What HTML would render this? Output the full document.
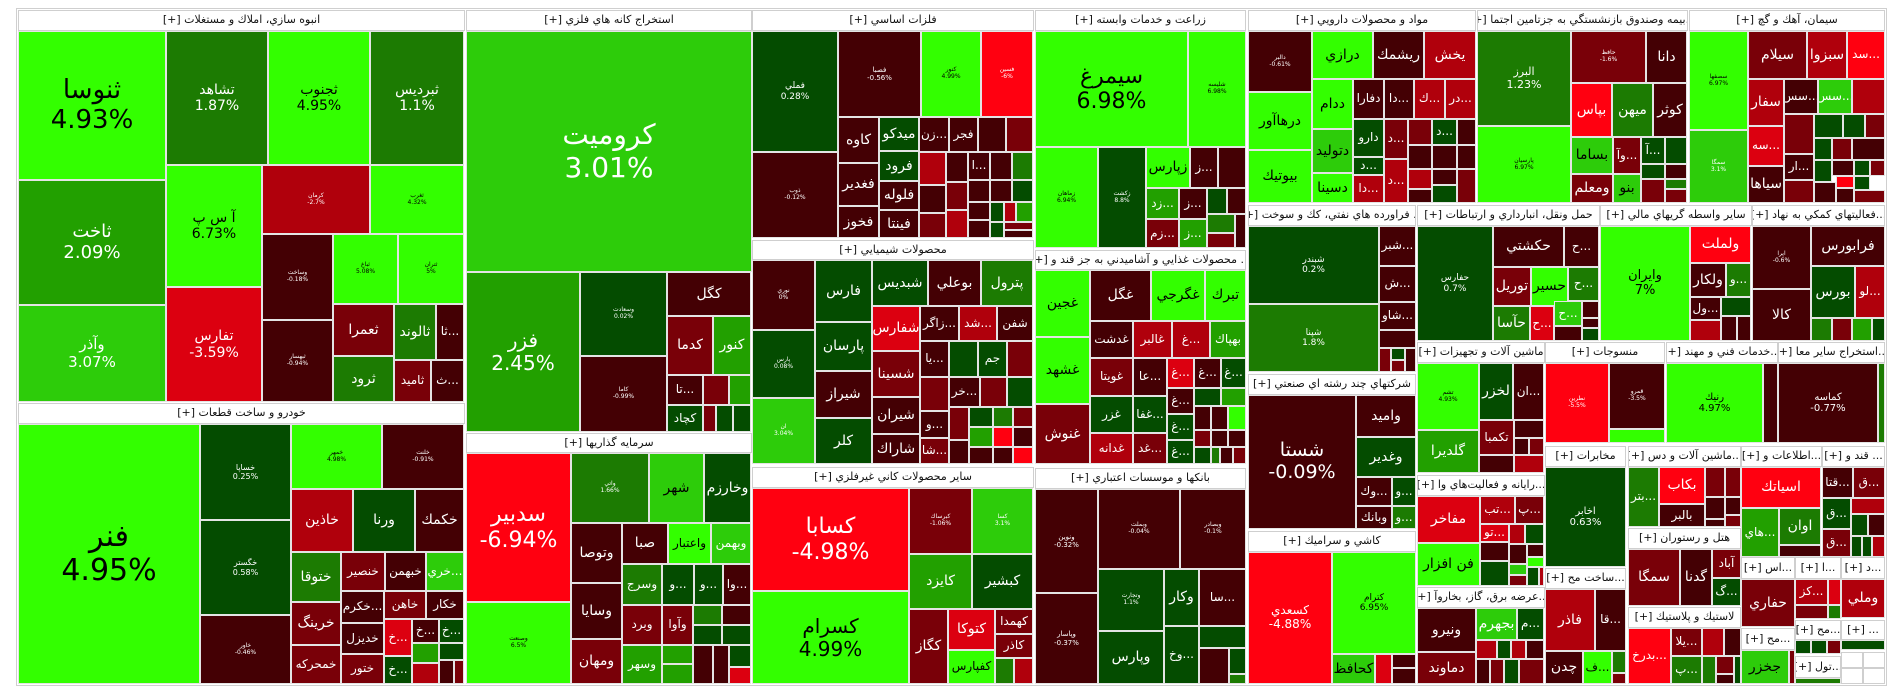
<!DOCTYPE html>
<html><head><meta charset="utf-8">
<style>
html,body{margin:0;padding:0;background:#fff;width:1904px;height:698px;overflow:hidden}
#w{position:relative;width:1904px;height:698px;font-family:"DejaVu Sans","Liberation Sans",sans-serif}
#w div{position:absolute;box-sizing:border-box;display:flex;align-items:center;justify-content:center;text-align:center;overflow:hidden;white-space:nowrap;line-height:1.15;direction:ltr}
.t{border:1px solid #e4e4e4;color:#fff;font-size:12px}
#w .h{background:#fff;border:1px solid #cfcfcf;color:#111;font-size:11px;direction:rtl}
.a{background:#33ff00;color:#000!important}
.b{background:#2dcc0a}
.c{background:#22a000}
.d{background:#1c7b02}
.e{background:#044c00}
.r1{background:#440004}
.r2{background:#790008}
.r3{background:#b0000c}
.r4{background:#dc0010}
.r5{background:#ff0010}
.s{font-size:6px!important}
.m{font-size:14px!important}
.k{font-size:11px!important}
#fr{border:1px solid #cfcfcf;left:16px;top:8px;width:1871px;height:678px}
</style></head><body><div id="w">
<div id="fr"></div>
<!-- انبوه -->
<div class="h" style="left:18px;top:10px;width:447px;height:21px">انبوه سازي، املاك و مستغلات [+]</div>
<div class="t a" style="left:18px;top:31px;width:148px;height:149px;font-size:26px">ثنوسا<br>4.93%</div>
<div class="t c" style="left:18px;top:180px;width:148px;height:125px;font-size:18px">ثاخت<br>2.09%</div>
<div class="t b" style="left:18px;top:305px;width:148px;height:97px;font-size:15px">وآذر<br>3.07%</div>
<div class="t d m" style="left:166px;top:31px;width:102px;height:134px">تشاهد<br>1.87%</div>
<div class="t a m" style="left:268px;top:31px;width:102px;height:134px">ثجنوب<br>4.95%</div>
<div class="t d m" style="left:370px;top:31px;width:94px;height:134px">ثبرديس<br>1.1%</div>
<div class="t a m" style="left:166px;top:165px;width:96px;height:122px">آ س پ<br>6.73%</div>
<div class="t r3 s" style="left:262px;top:165px;width:108px;height:69px">كرمان<br>-2.7%</div>
<div class="t a s" style="left:370px;top:165px;width:94px;height:69px">ثغرب<br>4.32%</div>
<div class="t r1 s" style="left:262px;top:234px;width:71px;height:86px">وساخت<br>-0.18%</div>
<div class="t a s" style="left:333px;top:234px;width:65px;height:70px">ثباغ<br>5.08%</div>
<div class="t a s" style="left:398px;top:234px;width:66px;height:70px">ثتران<br>5%</div>
<div class="t r4 m" style="left:166px;top:287px;width:96px;height:115px">تفارس<br>-3.59%</div>
<div class="t r1 s" style="left:262px;top:320px;width:71px;height:82px">ثبهسار<br>-0.94%</div>
<div class="t r2 m" style="left:333px;top:304px;width:61px;height:52px">ثعمرا</div>
<div class="t d m" style="left:394px;top:304px;width:42px;height:56px">ثالوند</div>
<div class="t r1" style="left:436px;top:304px;width:28px;height:56px">ثا...</div>
<div class="t d m" style="left:333px;top:356px;width:61px;height:46px">ثرود</div>
<div class="t r2" style="left:394px;top:360px;width:37px;height:42px">ثاميد</div>
<div class="t r1" style="left:431px;top:360px;width:33px;height:42px">ث...</div>
<!-- خودرو -->
<div class="h" style="left:18px;top:403px;width:447px;height:21px">خودرو و ساخت قطعات [+]</div>
<div class="t a" style="left:18px;top:424px;width:182px;height:260px;font-size:30px">فنر<br>4.95%</div>
<div class="t e" style="left:200px;top:424px;width:91px;height:96px;font-size:8px">خساپا<br>0.25%</div>
<div class="t e" style="left:200px;top:520px;width:91px;height:95px;font-size:8px">خگستر<br>0.58%</div>
<div class="t r1 s" style="left:200px;top:615px;width:91px;height:69px">خاور<br>-0.46%</div>
<div class="t a s" style="left:291px;top:424px;width:91px;height:65px">خمهر<br>4.98%</div>
<div class="t r1 s" style="left:382px;top:424px;width:82px;height:65px">خلنت<br>-0.91%</div>
<div class="t r3 m" style="left:291px;top:489px;width:62px;height:63px">خاذين</div>
<div class="t e m" style="left:353px;top:489px;width:62px;height:63px">ورنا</div>
<div class="t r1 m" style="left:415px;top:489px;width:49px;height:63px">خكمك</div>
<div class="t d m" style="left:291px;top:552px;width:50px;height:50px">ختوقا</div>
<div class="t r2" style="left:341px;top:552px;width:44px;height:39px">خنصير</div>
<div class="t r1" style="left:385px;top:552px;width:41px;height:39px">خبهمن</div>
<div class="t b" style="left:426px;top:552px;width:38px;height:39px">خري...</div>
<div class="t r2 m" style="left:291px;top:602px;width:50px;height:43px">خرينگ</div>
<div class="t r2" style="left:291px;top:645px;width:50px;height:39px">خمحركه</div>
<div class="t r1" style="left:341px;top:591px;width:43px;height:32px">خكرم...</div>
<div class="t r2" style="left:384px;top:591px;width:42px;height:28px">خاهن</div>
<div class="t r1" style="left:426px;top:591px;width:38px;height:28px">خكار</div>
<div class="t r1" style="left:341px;top:623px;width:43px;height:31px">خديزل</div>
<div class="t r2" style="left:341px;top:654px;width:43px;height:30px">ختور</div>
<div class="t r4" style="left:384px;top:619px;width:28px;height:37px">خ...</div>
<div class="t r1" style="left:412px;top:619px;width:27px;height:24px">خ...</div>
<div class="t e" style="left:439px;top:619px;width:25px;height:24px">خ...</div>
<div class="t c" style="left:412px;top:643px;width:27px;height:20px"></div>
<div class="t e" style="left:439px;top:643px;width:25px;height:17px"></div>
<div class="t e" style="left:384px;top:656px;width:28px;height:28px">خ...</div>
<div class="t r3" style="left:412px;top:663px;width:27px;height:21px"></div>
<div class="t r1" style="left:439px;top:660px;width:15px;height:24px"></div>
<div class="t r2" style="left:454px;top:660px;width:10px;height:24px"></div>
<!-- استخراج فلزي -->
<div class="h" style="left:466px;top:10px;width:286px;height:21px">استخراج كانه هاي فلزي [+]</div>
<div class="t b" style="left:466px;top:31px;width:286px;height:241px;font-size:28px">كروميت<br>3.01%</div>
<div class="t c" style="left:466px;top:272px;width:114px;height:160px;font-size:20px">فزر<br>2.45%</div>
<div class="t e s" style="left:580px;top:272px;width:87px;height:84px">وسعادت<br>0.02%</div>
<div class="t r1 s" style="left:580px;top:356px;width:87px;height:76px">كاما<br>-0.99%</div>
<div class="t r1 m" style="left:667px;top:272px;width:84px;height:44px">كگل</div>
<div class="t r2 m" style="left:667px;top:316px;width:46px;height:59px">كدما</div>
<div class="t c m" style="left:713px;top:316px;width:38px;height:59px">كنور</div>
<div class="t r1" style="left:667px;top:375px;width:36px;height:30px">تا...</div>
<div class="t r2" style="left:703px;top:375px;width:26px;height:30px"></div>
<div class="t c" style="left:729px;top:375px;width:22px;height:30px"></div>
<div class="t e" style="left:667px;top:405px;width:36px;height:27px">كچاد</div>
<div class="t r2" style="left:703px;top:405px;width:13px;height:27px"></div>
<div class="t e" style="left:716px;top:405px;width:17px;height:27px"></div>
<div class="t e" style="left:733px;top:405px;width:18px;height:27px"></div>
<!-- سرمايه -->
<div class="h" style="left:466px;top:433px;width:286px;height:20px">سرمايه گذاريها [+]</div>
<div class="t r5" style="left:466px;top:453px;width:105px;height:149px;font-size:22px">سدبير<br>-6.94%</div>
<div class="t a s" style="left:466px;top:602px;width:105px;height:82px">وصنعت<br>6.5%</div>
<div class="t d s" style="left:571px;top:453px;width:78px;height:70px">واتي<br>1.66%</div>
<div class="t b m" style="left:649px;top:453px;width:55px;height:70px;color:#000">شهر</div>
<div class="t e m" style="left:704px;top:453px;width:47px;height:70px">وخارزم</div>
<div class="t r1 m" style="left:571px;top:523px;width:51px;height:60px">وتوصا</div>
<div class="t r1 m" style="left:571px;top:583px;width:51px;height:56px">وسايا</div>
<div class="t r2 m" style="left:571px;top:639px;width:51px;height:45px">ومهان</div>
<div class="t r1 m" style="left:622px;top:523px;width:46px;height:41px">صبا</div>
<div class="t a" style="left:668px;top:523px;width:43px;height:41px">واعتبار</div>
<div class="t b" style="left:711px;top:523px;width:40px;height:41px">وبهمن</div>
<div class="t d" style="left:622px;top:564px;width:40px;height:41px">وسرج</div>
<div class="t e" style="left:662px;top:564px;width:32px;height:41px">و...</div>
<div class="t e" style="left:694px;top:564px;width:29px;height:41px">و...</div>
<div class="t r1" style="left:723px;top:564px;width:28px;height:41px">وا...</div>
<div class="t r2" style="left:622px;top:605px;width:40px;height:40px">وبرد</div>
<div class="t r2" style="left:662px;top:605px;width:31px;height:40px">وآوا</div>
<div class="t d" style="left:693px;top:605px;width:29px;height:20px"></div>
<div class="t r1" style="left:722px;top:605px;width:29px;height:20px"></div>
<div class="t e" style="left:693px;top:625px;width:29px;height:20px"></div>
<div class="t e" style="left:722px;top:625px;width:29px;height:20px"></div>
<div class="t c" style="left:622px;top:645px;width:40px;height:39px">وسهر</div>
<div class="t c" style="left:662px;top:645px;width:31px;height:19px"></div>
<div class="t c" style="left:662px;top:664px;width:31px;height:20px"></div>
<div class="t r1" style="left:693px;top:645px;width:20px;height:39px"></div>
<div class="t r1" style="left:713px;top:645px;width:16px;height:39px"></div>
<div class="t e" style="left:729px;top:645px;width:22px;height:22px"></div>
<div class="t r4" style="left:729px;top:667px;width:22px;height:17px"></div>
<!-- فلزات -->
<div class="h" style="left:752px;top:10px;width:282px;height:21px">فلزات اساسي [+]</div>
<div class="t e" style="left:752px;top:31px;width:86px;height:121px;font-size:9px">فملي<br>0.28%</div>
<div class="t r1 s" style="left:752px;top:152px;width:86px;height:86px">ذوب<br>-0.12%</div>
<div class="t r1" style="left:838px;top:31px;width:83px;height:86px;font-size:7px">فصبا<br>-0.56%</div>
<div class="t a s" style="left:921px;top:31px;width:60px;height:86px">كنور<br>4.99%</div>
<div class="t r5 s" style="left:981px;top:31px;width:52px;height:86px">فسين<br>-6%</div>
<div class="t r1 m" style="left:838px;top:117px;width:41px;height:46px">كاوه</div>
<div class="t r1 m" style="left:838px;top:163px;width:41px;height:43px">فغدير</div>
<div class="t r1 m" style="left:838px;top:206px;width:41px;height:32px">فخوز</div>
<div class="t e m" style="left:879px;top:117px;width:40px;height:34px">ميدكو</div>
<div class="t e m" style="left:879px;top:151px;width:40px;height:30px">فرود</div>
<div class="t r1 m" style="left:879px;top:181px;width:40px;height:29px">فلوله</div>
<div class="t r1 m" style="left:879px;top:210px;width:40px;height:28px">فينتا</div>
<div class="t r1" style="left:919px;top:117px;width:30px;height:35px">زن...</div>
<div class="t r1" style="left:949px;top:117px;width:29px;height:35px">فجر</div>
<div class="t r1" style="left:978px;top:117px;width:28px;height:35px"></div>
<div class="t r2" style="left:1006px;top:117px;width:27px;height:35px"></div>
<div class="t r3" style="left:919px;top:152px;width:27px;height:33px"></div>
<div class="t r1" style="left:946px;top:152px;width:22px;height:30px"></div>
<div class="t r1" style="left:968px;top:152px;width:22px;height:28px">ا...</div>
<div class="t r1" style="left:990px;top:152px;width:22px;height:28px"></div>
<div class="t d" style="left:1012px;top:152px;width:21px;height:28px"></div>
<div class="t r1" style="left:919px;top:185px;width:27px;height:28px"></div>
<div class="t r2" style="left:946px;top:182px;width:22px;height:28px"></div>
<div class="t r1" style="left:968px;top:180px;width:22px;height:22px"></div>
<div class="t r1" style="left:990px;top:180px;width:22px;height:22px"></div>
<div class="t e" style="left:1012px;top:180px;width:21px;height:22px"></div>
<div class="t r2" style="left:919px;top:213px;width:27px;height:25px"></div>
<div class="t r3" style="left:946px;top:210px;width:22px;height:28px"></div>
<div class="t r1" style="left:968px;top:202px;width:22px;height:18px"></div>
<div class="t e" style="left:990px;top:202px;width:14px;height:20px"></div>
<div class="t r3" style="left:1004px;top:202px;width:12px;height:20px"></div>
<div class="t c" style="left:1016px;top:202px;width:17px;height:20px"></div>
<div class="t r1" style="left:968px;top:220px;width:22px;height:18px"></div>
<div class="t e" style="left:990px;top:222px;width:14px;height:16px"></div>
<div class="t r2" style="left:1004px;top:222px;width:29px;height:8px"></div>
<div class="t r1" style="left:1004px;top:230px;width:29px;height:8px"></div>
<!-- شيميايي -->
<div class="h" style="left:752px;top:240px;width:282px;height:20px">محصولات شيميايي [+]</div>
<div class="t r1 s" style="left:752px;top:260px;width:63px;height:70px">نوري<br>0%</div>
<div class="t e s" style="left:752px;top:330px;width:63px;height:68px">پارس<br>0.08%</div>
<div class="t b s" style="left:752px;top:398px;width:63px;height:66px">ان<br>3.04%</div>
<div class="t e m" style="left:815px;top:260px;width:57px;height:62px">فارس</div>
<div class="t e m" style="left:815px;top:322px;width:57px;height:49px">پارسان</div>
<div class="t r1 m" style="left:815px;top:371px;width:57px;height:47px">شيراز</div>
<div class="t e m" style="left:815px;top:418px;width:57px;height:46px">كلر</div>
<div class="t e m" style="left:872px;top:260px;width:56px;height:46px">شبديس</div>
<div class="t r1 m" style="left:928px;top:260px;width:53px;height:46px">بوعلي</div>
<div class="t d m" style="left:981px;top:260px;width:52px;height:46px">پترول</div>
<div class="t r4 m" style="left:872px;top:306px;width:48px;height:45px">شفارس</div>
<div class="t r2 m" style="left:872px;top:351px;width:48px;height:46px">شسينا</div>
<div class="t r1 m" style="left:872px;top:397px;width:48px;height:37px">شيران</div>
<div class="t r1 m" style="left:872px;top:434px;width:48px;height:30px">شاراك</div>
<div class="t r1" style="left:920px;top:306px;width:39px;height:35px">زاگر...</div>
<div class="t r3" style="left:959px;top:306px;width:38px;height:35px">شد...</div>
<div class="t r1" style="left:997px;top:306px;width:36px;height:35px">شفن</div>
<div class="t r1" style="left:920px;top:341px;width:29px;height:36px">يا...</div>
<div class="t e" style="left:949px;top:341px;width:29px;height:36px"></div>
<div class="t e" style="left:978px;top:341px;width:29px;height:36px">جم</div>
<div class="t r2" style="left:1007px;top:341px;width:26px;height:36px"></div>
<div class="t r2" style="left:920px;top:377px;width:29px;height:34px"></div>
<div class="t r1" style="left:949px;top:377px;width:31px;height:30px">خر...</div>
<div class="t r2" style="left:980px;top:377px;width:27px;height:30px"></div>
<div class="t e" style="left:1007px;top:377px;width:26px;height:30px"></div>
<div class="t r1" style="left:920px;top:411px;width:29px;height:27px">و...</div>
<div class="t r2" style="left:920px;top:438px;width:29px;height:26px">شا...</div>
<div class="t r2" style="left:949px;top:407px;width:20px;height:33px"></div>
<div class="t r1" style="left:949px;top:440px;width:20px;height:24px"></div>
<div class="t e" style="left:969px;top:407px;width:24px;height:20px"></div>
<div class="t c" style="left:969px;top:427px;width:24px;height:20px"></div>
<div class="t r1" style="left:969px;top:447px;width:24px;height:17px"></div>
<div class="t d" style="left:993px;top:407px;width:20px;height:20px"></div>
<div class="t r2" style="left:1013px;top:407px;width:20px;height:20px"></div>
<div class="t r5" style="left:993px;top:427px;width:20px;height:20px"></div>
<div class="t r1" style="left:1013px;top:427px;width:20px;height:20px"></div>
<div class="t r1" style="left:993px;top:447px;width:20px;height:17px"></div>
<div class="t r5" style="left:1013px;top:447px;width:20px;height:17px"></div>
<!-- كاني -->
<div class="h" style="left:752px;top:467px;width:282px;height:21px">ساير محصولات كاني غيرفلزي [+]</div>
<div class="t r5" style="left:752px;top:488px;width:157px;height:103px;font-size:22px">كسابا<br>-4.98%</div>
<div class="t a" style="left:752px;top:591px;width:157px;height:93px;font-size:20px">كسرام<br>4.99%</div>
<div class="t r2 s" style="left:909px;top:488px;width:63px;height:66px">كبرساك<br>-1.06%</div>
<div class="t b s" style="left:972px;top:488px;width:61px;height:66px">كسا<br>3.1%</div>
<div class="t c m" style="left:909px;top:554px;width:63px;height:55px">كايزد</div>
<div class="t e m" style="left:972px;top:554px;width:61px;height:55px">كبشير</div>
<div class="t r2 m" style="left:909px;top:609px;width:39px;height:75px">كگاز</div>
<div class="t r4 m" style="left:948px;top:609px;width:47px;height:41px">كتوكا</div>
<div class="t a" style="left:948px;top:650px;width:47px;height:34px">كفپارس</div>
<div class="t r2" style="left:995px;top:609px;width:38px;height:25px">كهمدا</div>
<div class="t r2" style="left:995px;top:634px;width:38px;height:24px">كاذر</div>
<div class="t d" style="left:995px;top:658px;width:19px;height:26px"></div>
<div class="t r3" style="left:1014px;top:658px;width:19px;height:26px"></div>
<!-- زراعت -->
<div class="h" style="left:1035px;top:10px;width:211px;height:21px">زراعت و خدمات وابسته [+]</div>
<div class="t a" style="left:1035px;top:31px;width:153px;height:116px;font-size:22px">سيمرغ<br>6.98%</div>
<div class="t a s" style="left:1188px;top:31px;width:58px;height:116px">شليسه<br>6.98%</div>
<div class="t a s" style="left:1035px;top:147px;width:63px;height:101px">زماهان<br>6.94%</div>
<div class="t e s" style="left:1098px;top:147px;width:48px;height:101px">زكشت<br>8.8%</div>
<div class="t a m" style="left:1146px;top:147px;width:44px;height:41px">زپارس</div>
<div class="t r1" style="left:1190px;top:147px;width:28px;height:41px">ز...</div>
<div class="t r1" style="left:1218px;top:147px;width:28px;height:41px"></div>
<div class="t c" style="left:1146px;top:188px;width:33px;height:31px">زد...</div>
<div class="t r1" style="left:1179px;top:188px;width:28px;height:31px">ز...</div>
<div class="t e" style="left:1207px;top:188px;width:20px;height:26px"></div>
<div class="t r1" style="left:1227px;top:188px;width:19px;height:26px"></div>
<div class="t r2" style="left:1146px;top:219px;width:33px;height:29px">زم...</div>
<div class="t c" style="left:1179px;top:219px;width:28px;height:29px">ز...</div>
<div class="t d" style="left:1207px;top:214px;width:28px;height:19px"></div>
<div class="t r2" style="left:1207px;top:233px;width:28px;height:15px"></div>
<div class="t r1" style="left:1235px;top:214px;width:11px;height:34px"></div>
<!-- غذايي -->
<div class="h" style="left:1035px;top:250px;width:211px;height:20px">... محصولات غذايي و آشاميدني به جز قند و [+]</div>
<div class="t a m" style="left:1035px;top:270px;width:55px;height:67px">غجين</div>
<div class="t a m" style="left:1035px;top:337px;width:55px;height:67px">غشهد</div>
<div class="t r2 m" style="left:1035px;top:404px;width:55px;height:60px">غنوش</div>
<div class="t r1 m" style="left:1090px;top:270px;width:61px;height:51px">غگل</div>
<div class="t a m" style="left:1151px;top:270px;width:54px;height:51px">غگرجي</div>
<div class="t a m" style="left:1205px;top:270px;width:41px;height:51px">تبرك</div>
<div class="t r1" style="left:1090px;top:321px;width:43px;height:37px">غدشت</div>
<div class="t r3" style="left:1133px;top:321px;width:39px;height:37px">غالبر</div>
<div class="t r3" style="left:1172px;top:321px;width:38px;height:37px">غ...</div>
<div class="t c" style="left:1210px;top:321px;width:36px;height:37px">بهپاك</div>
<div class="t r2" style="left:1090px;top:358px;width:43px;height:38px">غويتا</div>
<div class="t r1" style="left:1133px;top:358px;width:34px;height:38px">عا...</div>
<div class="t r4" style="left:1167px;top:358px;width:27px;height:30px">غ...</div>
<div class="t r1" style="left:1194px;top:358px;width:27px;height:30px">غ...</div>
<div class="t e" style="left:1221px;top:358px;width:25px;height:30px">غ...</div>
<div class="t e" style="left:1090px;top:396px;width:43px;height:37px">غزر</div>
<div class="t e" style="left:1133px;top:396px;width:34px;height:37px">غفا...</div>
<div class="t r1" style="left:1167px;top:388px;width:27px;height:26px">غ...</div>
<div class="t e" style="left:1167px;top:414px;width:27px;height:26px">غ...</div>
<div class="t e" style="left:1167px;top:440px;width:27px;height:24px">غ...</div>
<div class="t e" style="left:1194px;top:388px;width:27px;height:18px"></div>
<div class="t c" style="left:1221px;top:388px;width:25px;height:18px"></div>
<div class="t r1" style="left:1194px;top:406px;width:17px;height:24px"></div>
<div class="t r1" style="left:1211px;top:406px;width:17px;height:24px"></div>
<div class="t a" style="left:1228px;top:406px;width:18px;height:24px"></div>
<div class="t r2" style="left:1194px;top:430px;width:17px;height:17px"></div>
<div class="t r1" style="left:1211px;top:430px;width:17px;height:17px"></div>
<div class="t r1" style="left:1228px;top:430px;width:18px;height:17px"></div>
<div class="t e" style="left:1194px;top:447px;width:17px;height:17px"></div>
<div class="t d" style="left:1211px;top:447px;width:9px;height:17px"></div>
<div class="t r1" style="left:1220px;top:447px;width:13px;height:17px"></div>
<div class="t r2" style="left:1233px;top:447px;width:13px;height:17px"></div>
<div class="t r3" style="left:1090px;top:433px;width:43px;height:31px">غدانه</div>
<div class="t r2" style="left:1133px;top:433px;width:34px;height:31px">غد...</div>
<!-- بانكها -->
<div class="h" style="left:1035px;top:468px;width:211px;height:21px">بانكها و موسسات اعتباري [+]</div>
<div class="t r1" style="left:1035px;top:489px;width:63px;height:104px;font-size:7px">ونوين<br>-0.32%</div>
<div class="t r1" style="left:1035px;top:593px;width:63px;height:91px;font-size:7px">وپاسار<br>-0.37%</div>
<div class="t r1 s" style="left:1098px;top:489px;width:82px;height:80px">وبملت<br>-0.04%</div>
<div class="t r1 s" style="left:1180px;top:489px;width:66px;height:80px">وبصادر<br>-0.1%</div>
<div class="t e s" style="left:1098px;top:569px;width:66px;height:62px">وتجارت<br>1.1%</div>
<div class="t e m" style="left:1164px;top:569px;width:35px;height:57px">وكار</div>
<div class="t r1" style="left:1199px;top:569px;width:47px;height:57px">سا...</div>
<div class="t e m" style="left:1098px;top:631px;width:66px;height:53px">وپارس</div>
<div class="t e" style="left:1164px;top:626px;width:35px;height:58px">وخ...</div>
<div class="t e" style="left:1199px;top:626px;width:47px;height:22px"></div>
<div class="t r1" style="left:1199px;top:648px;width:30px;height:36px"></div>
<div class="t e" style="left:1229px;top:648px;width:17px;height:26px"></div>
<div class="t d" style="left:1229px;top:674px;width:17px;height:10px"></div>
<!-- دارويي -->
<div class="h" style="left:1248px;top:10px;width:228px;height:21px">مواد و محصولات دارويي [+]</div>
<div class="t r1 s" style="left:1248px;top:31px;width:64px;height:61px">دالبر<br>-0.61%</div>
<div class="t a m" style="left:1248px;top:92px;width:64px;height:58px">درهاآور</div>
<div class="t a m" style="left:1248px;top:150px;width:64px;height:53px">بيوتيك</div>
<div class="t a m" style="left:1312px;top:31px;width:61px;height:48px">درازي</div>
<div class="t r1 m" style="left:1373px;top:31px;width:51px;height:48px">ريشمك</div>
<div class="t r3 m" style="left:1424px;top:31px;width:52px;height:48px">يخش</div>
<div class="t a m" style="left:1312px;top:79px;width:41px;height:50px">ددام</div>
<div class="t b m" style="left:1312px;top:129px;width:41px;height:44px;color:#000">دتوليد</div>
<div class="t a m" style="left:1312px;top:173px;width:41px;height:30px">دسينا</div>
<div class="t r1" style="left:1353px;top:79px;width:31px;height:40px">دفارا</div>
<div class="t r1" style="left:1384px;top:79px;width:30px;height:40px">دا...</div>
<div class="t r3" style="left:1414px;top:79px;width:31px;height:40px">ك...</div>
<div class="t r3" style="left:1445px;top:79px;width:31px;height:40px">در...</div>
<div class="t e" style="left:1353px;top:119px;width:31px;height:38px">دارو</div>
<div class="t r2" style="left:1384px;top:119px;width:24px;height:40px">د...</div>
<div class="t r2" style="left:1408px;top:119px;width:24px;height:26px"></div>
<div class="t e" style="left:1432px;top:119px;width:25px;height:26px">د...</div>
<div class="t r1" style="left:1457px;top:119px;width:19px;height:26px"></div>
<div class="t e" style="left:1353px;top:157px;width:31px;height:18px">د...</div>
<div class="t r3" style="left:1353px;top:175px;width:31px;height:28px">دا...</div>
<div class="t r3" style="left:1384px;top:159px;width:24px;height:44px">د...</div>
<div class="t r1" style="left:1408px;top:145px;width:24px;height:24px"></div>
<div class="t r1" style="left:1432px;top:145px;width:25px;height:24px"></div>
<div class="t r1" style="left:1457px;top:145px;width:19px;height:24px"></div>
<div class="t r3" style="left:1408px;top:169px;width:24px;height:20px"></div>
<div class="t r1" style="left:1408px;top:189px;width:24px;height:14px"></div>
<div class="t r1" style="left:1432px;top:169px;width:25px;height:16px"></div>
<div class="t e" style="left:1432px;top:185px;width:25px;height:18px"></div>
<div class="t r2" style="left:1457px;top:169px;width:19px;height:34px"></div>
<!-- بيمه -->
<div class="h" style="left:1477px;top:10px;width:211px;height:21px">...بيمه وصندوق بازنشستگي به جزتامين اجتما [+]</div>
<div class="t d k" style="left:1477px;top:31px;width:94px;height:95px">البرز<br>1.23%</div>
<div class="t a s" style="left:1477px;top:126px;width:94px;height:77px">پارسيان<br>6.97%</div>
<div class="t r2 s" style="left:1571px;top:31px;width:75px;height:52px">حافظ<br>-1.6%</div>
<div class="t r1 m" style="left:1646px;top:31px;width:41px;height:52px">دانا</div>
<div class="t r5 m" style="left:1571px;top:83px;width:41px;height:54px">بپاس</div>
<div class="t d m" style="left:1612px;top:83px;width:41px;height:54px">ميهن</div>
<div class="t r1 m" style="left:1653px;top:83px;width:34px;height:54px">كوثر</div>
<div class="t b m" style="left:1571px;top:137px;width:42px;height:37px;color:#000">بساما</div>
<div class="t r2" style="left:1613px;top:137px;width:28px;height:37px">وآ...</div>
<div class="t e" style="left:1641px;top:137px;width:24px;height:27px">آ...</div>
<div class="t e" style="left:1665px;top:137px;width:22px;height:27px"></div>
<div class="t r2 m" style="left:1571px;top:174px;width:42px;height:29px">ومعلم</div>
<div class="t b m" style="left:1613px;top:174px;width:28px;height:29px;color:#000">بنو</div>
<div class="t e" style="left:1641px;top:164px;width:24px;height:15px"></div>
<div class="t r1" style="left:1665px;top:164px;width:22px;height:15px"></div>
<div class="t r2" style="left:1641px;top:179px;width:24px;height:24px"></div>
<div class="t d" style="left:1665px;top:179px;width:22px;height:10px"></div>
<div class="t r2" style="left:1665px;top:189px;width:22px;height:14px"></div>
<!-- سيمان -->
<div class="h" style="left:1689px;top:10px;width:196px;height:21px">سيمان، آهك و گچ [+]</div>
<div class="t a s" style="left:1689px;top:31px;width:59px;height:99px">سصفها<br>6.97%</div>
<div class="t b s" style="left:1689px;top:130px;width:59px;height:73px">سمگا<br>3.1%</div>
<div class="t r2 m" style="left:1748px;top:31px;width:59px;height:48px">سيلام</div>
<div class="t r3 m" style="left:1807px;top:31px;width:40px;height:48px">سبزوا</div>
<div class="t r5" style="left:1847px;top:31px;width:38px;height:48px">سد...</div>
<div class="t r3 m" style="left:1748px;top:79px;width:36px;height:47px">سفار</div>
<div class="t r1" style="left:1784px;top:79px;width:34px;height:35px">سس...</div>
<div class="t b" style="left:1818px;top:79px;width:34px;height:35px">سس...</div>
<div class="t r3" style="left:1852px;top:79px;width:33px;height:35px"></div>
<div class="t r4" style="left:1748px;top:126px;width:36px;height:40px">سه...</div>
<div class="t r1 m" style="left:1748px;top:166px;width:36px;height:37px">سياها</div>
<div class="t r2" style="left:1784px;top:114px;width:30px;height:40px"></div>
<div class="t e" style="left:1814px;top:114px;width:29px;height:24px"></div>
<div class="t e" style="left:1843px;top:114px;width:22px;height:24px"></div>
<div class="t r2" style="left:1865px;top:114px;width:20px;height:24px"></div>
<div class="t r1" style="left:1784px;top:154px;width:30px;height:26px">ار...</div>
<div class="t r2" style="left:1784px;top:180px;width:30px;height:23px"></div>
<div class="t e" style="left:1814px;top:138px;width:18px;height:22px"></div>
<div class="t r2" style="left:1832px;top:138px;width:20px;height:22px"></div>
<div class="t r1" style="left:1852px;top:138px;width:33px;height:22px"></div>
<div class="t e" style="left:1814px;top:160px;width:18px;height:22px"></div>
<div class="t r1" style="left:1832px;top:160px;width:22px;height:16px"></div>
<div class="t e" style="left:1854px;top:160px;width:16px;height:16px"></div>
<div class="t r2" style="left:1870px;top:160px;width:15px;height:16px"></div>
<div class="t r1" style="left:1814px;top:182px;width:22px;height:21px"></div>
<div class="t r5" style="left:1836px;top:176px;width:18px;height:12px"></div>
<div class="t e" style="left:1854px;top:176px;width:16px;height:14px"></div>
<div class="t r1" style="left:1836px;top:188px;width:18px;height:15px"></div>
<div class="t r2" style="left:1854px;top:190px;width:31px;height:13px"></div>
<!-- فرآورده نفتي -->
<div class="h" style="left:1248px;top:205px;width:168px;height:21px">... فراورده هاي نفتي، كك و سوخت [+]</div>
<div class="t e" style="left:1248px;top:226px;width:131px;height:78px;font-size:9px">شبندر<br>0.2%</div>
<div class="t d" style="left:1248px;top:304px;width:131px;height:68px;font-size:9px">شپنا<br>1.8%</div>
<div class="t r1" style="left:1379px;top:226px;width:37px;height:40px">شبر...</div>
<div class="t r1" style="left:1379px;top:266px;width:37px;height:36px">ش...</div>
<div class="t r1" style="left:1379px;top:302px;width:37px;height:28px">شاو...</div>
<div class="t r1" style="left:1379px;top:330px;width:37px;height:18px"></div>
<div class="t r2" style="left:1379px;top:348px;width:12px;height:24px"></div>
<div class="t e" style="left:1391px;top:348px;width:14px;height:12px"></div>
<div class="t r2" style="left:1391px;top:360px;width:14px;height:12px"></div>
<div class="t r1" style="left:1405px;top:348px;width:11px;height:24px"></div>
<!-- چند رشته -->
<div class="h" style="left:1248px;top:374px;width:168px;height:21px">شركتهاي چند رشته اي صنعتي [+]</div>
<div class="t r1" style="left:1248px;top:395px;width:108px;height:134px;font-size:19px">شستا<br>-0.09%</div>
<div class="t r1 m" style="left:1356px;top:395px;width:60px;height:42px">واميد</div>
<div class="t e m" style="left:1356px;top:437px;width:60px;height:40px">وغدير</div>
<div class="t r1" style="left:1356px;top:477px;width:36px;height:29px">وك...</div>
<div class="t e" style="left:1392px;top:477px;width:24px;height:29px">و...</div>
<div class="t r1" style="left:1356px;top:506px;width:36px;height:23px">وبانك</div>
<div class="t d" style="left:1392px;top:506px;width:24px;height:23px">و...</div>
<!-- كاشي -->
<div class="h" style="left:1248px;top:531px;width:168px;height:21px">كاشي و سراميك [+]</div>
<div class="t r5" style="left:1248px;top:552px;width:84px;height:132px;font-size:12px">كسعدي<br>-4.88%</div>
<div class="t a" style="left:1332px;top:552px;width:84px;height:102px;font-size:9px">كترام<br>6.95%</div>
<div class="t b m" style="left:1332px;top:654px;width:43px;height:30px;color:#000">كحافظ</div>
<div class="t r4" style="left:1375px;top:654px;width:17px;height:30px"></div>
<div class="t r1" style="left:1392px;top:654px;width:24px;height:14px"></div>
<div class="t r1" style="left:1392px;top:668px;width:24px;height:16px"></div>
<!-- حمل ونقل -->
<div class="h" style="left:1417px;top:205px;width:183px;height:21px">حمل ونقل، انبارداري و ارتباطات [+]</div>
<div class="t e" style="left:1417px;top:226px;width:76px;height:115px;font-size:9px">حفارس<br>0.7%</div>
<div class="t r1 m" style="left:1493px;top:226px;width:71px;height:41px">حكشتي</div>
<div class="t r1" style="left:1564px;top:226px;width:35px;height:41px">ح...</div>
<div class="t r2 m" style="left:1493px;top:267px;width:38px;height:39px">توريل</div>
<div class="t a m" style="left:1531px;top:267px;width:37px;height:39px">حسير</div>
<div class="t d" style="left:1568px;top:267px;width:31px;height:34px">ح...</div>
<div class="t d m" style="left:1493px;top:306px;width:37px;height:35px">حآسا</div>
<div class="t r4" style="left:1530px;top:306px;width:24px;height:35px">ح...</div>
<div class="t b" style="left:1554px;top:301px;width:28px;height:25px">ح...</div>
<div class="t r1" style="left:1582px;top:301px;width:17px;height:17px"></div>
<div class="t r1" style="left:1582px;top:318px;width:17px;height:10px"></div>
<div class="t r1" style="left:1554px;top:326px;width:28px;height:15px"></div>
<div class="t e" style="left:1582px;top:328px;width:17px;height:13px"></div>
<!-- ساير واسطه -->
<div class="h" style="left:1600px;top:205px;width:152px;height:21px">ساير واسطه گريهاي مالي [+]</div>
<div class="t a" style="left:1600px;top:226px;width:90px;height:115px;font-size:13px">وايران<br>7%</div>
<div class="t r5 m" style="left:1690px;top:226px;width:61px;height:37px">ولملت</div>
<div class="t r1 m" style="left:1690px;top:263px;width:36px;height:34px">ولكار</div>
<div class="t d" style="left:1726px;top:263px;width:25px;height:34px">و...</div>
<div class="t r1" style="left:1690px;top:297px;width:31px;height:23px">ول...</div>
<div class="t e" style="left:1721px;top:297px;width:30px;height:19px"></div>
<div class="t r3" style="left:1690px;top:320px;width:31px;height:21px"></div>
<div class="t r1" style="left:1721px;top:316px;width:16px;height:25px"></div>
<div class="t r1" style="left:1737px;top:316px;width:14px;height:25px"></div>
<!-- كمكي -->
<div class="h" style="left:1752px;top:205px;width:133px;height:21px">...فعاليتهاي كمكي به نهاد [+]</div>
<div class="t r1 s" style="left:1752px;top:226px;width:59px;height:63px">اپرا<br>-0.6%</div>
<div class="t r1 m" style="left:1752px;top:289px;width:59px;height:52px">كالا</div>
<div class="t r1 m" style="left:1811px;top:226px;width:74px;height:40px">فرابورس</div>
<div class="t e m" style="left:1811px;top:266px;width:44px;height:52px">بورس</div>
<div class="t r3" style="left:1855px;top:266px;width:30px;height:52px">لو...</div>
<div class="t d" style="left:1811px;top:318px;width:21px;height:23px"></div>
<div class="t r2" style="left:1832px;top:318px;width:20px;height:23px"></div>
<div class="t c" style="left:1852px;top:318px;width:20px;height:23px"></div>
<div class="t e" style="left:1872px;top:318px;width:13px;height:23px"></div>
<!-- ماشين آلات -->
<div class="h" style="left:1417px;top:342px;width:128px;height:21px">ماشين آلات و تجهيزات [+]</div>
<div class="t a s" style="left:1417px;top:363px;width:62px;height:67px">تشم<br>4.93%</div>
<div class="t c m" style="left:1417px;top:430px;width:62px;height:43px">گلديرا</div>
<div class="t e m" style="left:1479px;top:363px;width:34px;height:57px">لخزر</div>
<div class="t r1" style="left:1513px;top:363px;width:31px;height:57px">ان...</div>
<div class="t r2" style="left:1479px;top:420px;width:35px;height:35px">تكمبا</div>
<div class="t r1" style="left:1514px;top:420px;width:30px;height:18px"></div>
<div class="t r1" style="left:1514px;top:438px;width:15px;height:17px"></div>
<div class="t r2" style="left:1529px;top:438px;width:15px;height:17px"></div>
<div class="t r1" style="left:1479px;top:455px;width:35px;height:18px"></div>
<div class="t r3" style="left:1514px;top:455px;width:30px;height:18px"></div>
<!-- رايانه -->
<div class="h" style="left:1417px;top:475px;width:128px;height:21px">...رايانه و فعاليت‌هاي وا [+]</div>
<div class="t r4 m" style="left:1417px;top:496px;width:63px;height:47px">مفاخر</div>
<div class="t a m" style="left:1417px;top:543px;width:63px;height:43px">فن افزار</div>
<div class="t r3" style="left:1480px;top:496px;width:35px;height:28px">تب...</div>
<div class="t r2" style="left:1515px;top:496px;width:29px;height:28px">پ...</div>
<div class="t r4" style="left:1480px;top:524px;width:29px;height:18px">تو...</div>
<div class="t r3" style="left:1509px;top:524px;width:16px;height:20px"></div>
<div class="t e" style="left:1525px;top:524px;width:19px;height:20px"></div>
<div class="t r1" style="left:1480px;top:542px;width:29px;height:19px"></div>
<div class="t r1" style="left:1509px;top:544px;width:18px;height:20px"></div>
<div class="t r1" style="left:1527px;top:544px;width:17px;height:13px"></div>
<div class="t b" style="left:1509px;top:564px;width:18px;height:11px"></div>
<div class="t a" style="left:1527px;top:557px;width:17px;height:10px"></div>
<div class="t e" style="left:1480px;top:561px;width:29px;height:25px"></div>
<div class="t r2" style="left:1509px;top:575px;width:18px;height:11px"></div>
<div class="t e" style="left:1527px;top:567px;width:12px;height:19px"></div>
<div class="t r3" style="left:1539px;top:567px;width:5px;height:19px"></div>
<!-- عرضه برق -->
<div class="h" style="left:1417px;top:587px;width:128px;height:21px">...عرضه برق، گاز، بخاروآ [+]</div>
<div class="t r1 m" style="left:1417px;top:608px;width:59px;height:44px">ونيرو</div>
<div class="t r2 m" style="left:1417px;top:652px;width:59px;height:32px">دماوند</div>
<div class="t b m" style="left:1476px;top:608px;width:41px;height:32px">بجهرم</div>
<div class="t e" style="left:1517px;top:608px;width:27px;height:32px">م...</div>
<div class="t r3" style="left:1476px;top:640px;width:21px;height:19px"></div>
<div class="t e" style="left:1497px;top:640px;width:14px;height:19px"></div>
<div class="t r3" style="left:1511px;top:640px;width:15px;height:19px"></div>
<div class="t r1" style="left:1526px;top:640px;width:18px;height:19px"></div>
<div class="t r1" style="left:1476px;top:659px;width:14px;height:25px"></div>
<div class="t r2" style="left:1490px;top:659px;width:14px;height:25px"></div>
<div class="t e" style="left:1504px;top:659px;width:15px;height:25px"></div>
<div class="t r2" style="left:1519px;top:659px;width:25px;height:25px"></div>
<!-- منسوجات -->
<div class="h" style="left:1545px;top:342px;width:120px;height:21px">منسوجات [+]</div>
<div class="t r5 s" style="left:1545px;top:363px;width:64px;height:80px">نطرين<br>-5.5%</div>
<div class="t r1 s" style="left:1609px;top:363px;width:56px;height:66px">قمرو<br>-3.5%</div>
<div class="t a" style="left:1609px;top:429px;width:56px;height:14px"></div>
<!-- مخابرات -->
<div class="h" style="left:1545px;top:446px;width:81px;height:21px">مخابرات [+]</div>
<div class="t e" style="left:1545px;top:467px;width:81px;height:100px;font-size:10px">اخابر<br>0.63%</div>
<!-- ساخت مح -->
<div class="h" style="left:1545px;top:568px;width:81px;height:21px">...ساخت مح [+]</div>
<div class="t r3 m" style="left:1545px;top:589px;width:50px;height:62px">فاذر</div>
<div class="t r1" style="left:1595px;top:589px;width:31px;height:62px">قا...</div>
<div class="t r1 m" style="left:1545px;top:651px;width:38px;height:33px">چدن</div>
<div class="t a" style="left:1583px;top:651px;width:29px;height:33px">ف...</div>
<div class="t d" style="left:1612px;top:651px;width:14px;height:22px"></div>
<div class="t r2" style="left:1612px;top:673px;width:14px;height:11px"></div>
<!-- ماشين دس -->
<div class="h" style="left:1628px;top:446px;width:113px;height:21px">...ماشين آلات و دس [+]</div>
<div class="t d" style="left:1628px;top:467px;width:31px;height:60px">بتر...</div>
<div class="t r5 m" style="left:1659px;top:467px;width:46px;height:37px">بكاب</div>
<div class="t r1" style="left:1659px;top:504px;width:46px;height:23px">بالبر</div>
<div class="t r2" style="left:1705px;top:467px;width:20px;height:30px"></div>
<div class="t r2" style="left:1725px;top:467px;width:16px;height:30px"></div>
<div class="t r1" style="left:1705px;top:497px;width:20px;height:22px"></div>
<div class="t r1" style="left:1725px;top:497px;width:16px;height:18px"></div>
<div class="t r2" style="left:1725px;top:515px;width:16px;height:12px"></div>
<div class="t r1" style="left:1705px;top:519px;width:20px;height:8px"></div>
<!-- هتل -->
<div class="h" style="left:1628px;top:528px;width:113px;height:21px">هتل و رستوران [+]</div>
<div class="t r2 m" style="left:1628px;top:549px;width:52px;height:57px">سمگا</div>
<div class="t r1 m" style="left:1680px;top:549px;width:32px;height:57px">گدنا</div>
<div class="t r2" style="left:1712px;top:549px;width:29px;height:29px">آباد</div>
<div class="t e" style="left:1712px;top:578px;width:29px;height:28px">گ...</div>
<!-- لاستيك -->
<div class="h" style="left:1628px;top:607px;width:113px;height:21px">لاستيك و پلاستيك [+]</div>
<div class="t r5" style="left:1628px;top:628px;width:43px;height:56px">بدرخ...</div>
<div class="t r2" style="left:1671px;top:628px;width:31px;height:28px">يلا...</div>
<div class="t d" style="left:1671px;top:656px;width:31px;height:28px">پ...</div>
<div class="t r3" style="left:1702px;top:628px;width:22px;height:28px"></div>
<div class="t r1" style="left:1724px;top:628px;width:17px;height:28px"></div>
<div class="t d" style="left:1702px;top:656px;width:14px;height:28px"></div>
<div class="t r2" style="left:1716px;top:656px;width:18px;height:18px"></div>
<div class="t r1" style="left:1716px;top:674px;width:18px;height:10px"></div>
<div class="t e" style="left:1734px;top:656px;width:7px;height:28px"></div>
<!-- خدمات فني -->
<div class="h" style="left:1666px;top:342px;width:112px;height:21px">...خدمات فني و مهند [+]</div>
<div class="t a" style="left:1666px;top:363px;width:97px;height:80px;font-size:10px">رنيك<br>4.97%</div>
<div class="t r1" style="left:1763px;top:363px;width:15px;height:80px"></div>
<!-- استخراج ساير -->
<div class="h" style="left:1778px;top:342px;width:107px;height:21px">...استخراج ساير معا [+]</div>
<div class="t r1" style="left:1778px;top:363px;width:100px;height:80px;font-size:10px">كماسه<br>-0.77%</div>
<div class="t d" style="left:1878px;top:363px;width:7px;height:80px"></div>
<!-- اطلاعات -->
<div class="h" style="left:1741px;top:446px;width:81px;height:21px">...اطلاعات و [+]</div>
<div class="t r5 m" style="left:1741px;top:467px;width:80px;height:41px">اسياتك</div>
<div class="t c" style="left:1741px;top:508px;width:38px;height:49px">هاي...</div>
<div class="t d m" style="left:1779px;top:508px;width:42px;height:37px">اوان</div>
<div class="t r1" style="left:1779px;top:545px;width:42px;height:12px"></div>
<!-- قند -->
<div class="h" style="left:1822px;top:446px;width:63px;height:21px">... قند و [+]</div>
<div class="t r1" style="left:1822px;top:467px;width:31px;height:31px">قتا...</div>
<div class="t r2" style="left:1853px;top:467px;width:32px;height:31px">ق...</div>
<div class="t e" style="left:1822px;top:498px;width:29px;height:31px">ق...</div>
<div class="t r3" style="left:1851px;top:498px;width:34px;height:16px"></div>
<div class="t e" style="left:1851px;top:514px;width:17px;height:22px"></div>
<div class="t r1" style="left:1868px;top:514px;width:17px;height:22px"></div>
<div class="t r2" style="left:1822px;top:529px;width:29px;height:28px">ق...</div>
<div class="t e" style="left:1851px;top:536px;width:11px;height:21px"></div>
<div class="t e" style="left:1862px;top:536px;width:10px;height:21px"></div>
<div class="t r3" style="left:1872px;top:536px;width:13px;height:21px"></div>
<!-- bottom right small -->
<div class="h" style="left:1741px;top:557px;width:54px;height:22px">...اس [+]</div>
<div class="t r2 m" style="left:1741px;top:579px;width:54px;height:48px">حفاري</div>
<div class="h" style="left:1795px;top:557px;width:46px;height:22px">...ا [+]</div>
<div class="t r3" style="left:1795px;top:579px;width:33px;height:26px">كز...</div>
<div class="t r4" style="left:1828px;top:579px;width:13px;height:26px"></div>
<div class="t r2" style="left:1795px;top:605px;width:33px;height:14px"></div>
<div class="t d" style="left:1828px;top:605px;width:13px;height:14px"></div>
<div class="h" style="left:1841px;top:557px;width:44px;height:22px">...د [+]</div>
<div class="t r3 m" style="left:1841px;top:579px;width:44px;height:39px">وملي</div>
<div class="h" style="left:1741px;top:628px;width:54px;height:22px">...مح [+]</div>
<div class="t b m" style="left:1741px;top:650px;width:48px;height:34px;color:#000">جخزر</div>
<div class="t r2" style="left:1789px;top:650px;width:6px;height:34px"></div>
<div class="h" style="left:1795px;top:620px;width:46px;height:20px">...مح [+]</div>
<div class="t e" style="left:1795px;top:640px;width:16px;height:14px"></div>
<div class="t e" style="left:1811px;top:640px;width:16px;height:14px"></div>
<div class="t r2" style="left:1827px;top:640px;width:14px;height:14px"></div>
<div class="h" style="left:1841px;top:620px;width:44px;height:20px">... [+]</div>
<div class="t e" style="left:1841px;top:640px;width:44px;height:10px"></div>
<div class="h" style="left:1795px;top:656px;width:46px;height:22px">...تول [+]</div>
<div class="t d" style="left:1795px;top:678px;width:46px;height:6px"></div>
<div class="h" style="left:1841px;top:652px;width:22px;height:16px"></div>
<div class="h" style="left:1863px;top:652px;width:22px;height:16px"></div>
<div class="h" style="left:1841px;top:668px;width:22px;height:16px"></div>
<div class="h" style="left:1863px;top:668px;width:22px;height:16px"></div>
</div></body></html>
